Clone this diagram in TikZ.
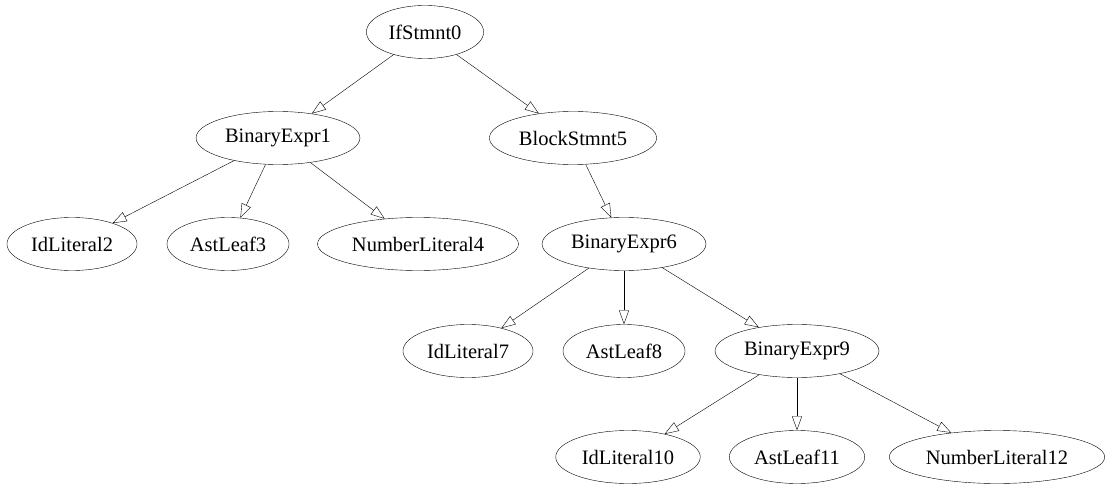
\documentclass[tikz,border=0pt]{standalone}
\usepackage{fontspec}
\setmainfont{Liberation Serif}
\usetikzlibrary{arrows.meta,shapes.geometric}

\tikzset{
  astnode/.style={draw,ellipse,thin,minimum height=53pt,inner xsep=5pt,inner ysep=0pt,
    font=\fontsize{20.5}{24}\selectfont},
  treeedge/.style={draw,thin,-{Triangle[open,length=14pt,width=10pt]}}
}

\begin{document}
\begin{tikzpicture}[x=1pt,y=-1pt]
  \useasboundingbox (0,0) rectangle (1110,489);
  \node[astnode] (if0) at (425,32) {IfStmnt0};
  \node[astnode] (bin1) at (278,138) {BinaryExpr1};
  \node[astnode] (block5) at (573,138) {BlockStmnt5};
  \node[astnode] (id2) at (72,244) {IdLiteral2};
  \node[astnode] (leaf3) at (228,244) {AstLeaf3};
  \node[astnode] (num4) at (418,244) {NumberLiteral4};
  \node[astnode] (bin6) at (624,244) {BinaryExpr6};
  \node[astnode] (id7) at (468,351) {IdLiteral7};
  \node[astnode] (leaf8) at (624,351) {AstLeaf8};
  \node[astnode] (bin9) at (797,351) {BinaryExpr9};
  \node[astnode] (id10) at (628,457) {IdLiteral10};
  \node[astnode] (leaf11) at (797,457) {AstLeaf11};
  \node[astnode] (num12) at (997,457) {NumberLiteral12};

  \draw[treeedge] (if0) -- (bin1);
  \draw[treeedge] (if0) -- (block5);
  \draw[treeedge] (bin1) -- (id2);
  \draw[treeedge] (bin1) -- (leaf3);
  \draw[treeedge] (bin1) -- (num4);
  \draw[treeedge] (block5) -- (bin6);
  \draw[treeedge] (bin6) -- (id7);
  \draw[treeedge] (bin6) -- (leaf8);
  \draw[treeedge] (bin6) -- (bin9);
  \draw[treeedge] (bin9) -- (id10);
  \draw[treeedge] (bin9) -- (leaf11);
  \draw[treeedge] (bin9) -- (num12);
\end{tikzpicture}
\end{document}
